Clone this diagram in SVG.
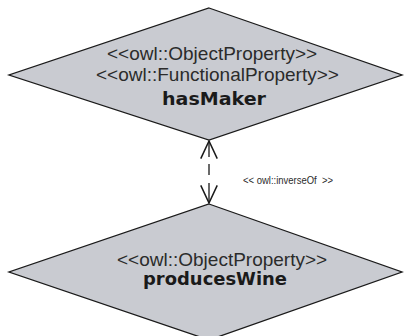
<svg xmlns="http://www.w3.org/2000/svg" width="405" height="336" viewBox="0 0 405 336">
  <style>
    .prop { fill: #c9cbd1; stroke: #1a1a1a; stroke-width: 1.3; stroke-linejoin: miter; }
    .stereo { font-family: "Liberation Sans", Arial, sans-serif; font-size: 19px; fill: #2b2b2b; }
    .name { font-family: "DejaVu Sans", Verdana, sans-serif; font-size: 18px; font-weight: bold; fill: #1a1a1a; }
    .edge { fill: none; stroke: #1a1a1a; stroke-width: 1.3; }
    .edge-label { font-family: "Liberation Sans", Arial, sans-serif; font-size: 11px; fill: #2b2b2b; white-space: pre; }
  </style>
  <defs>
    <marker id="openArrow" markerUnits="userSpaceOnUse" markerWidth="20" markerHeight="20"
            orient="auto-start-reverse" refX="0" refY="0" viewBox="-16 -8 17 16" overflow="visible">
      <path d="M-15,-7 L0,0 L-15,7" fill="none" stroke="#1a1a1a" stroke-width="1.3" stroke-dasharray="none"/>
    </marker>
  </defs>

  <g id="hasMaker">
    <polygon class="prop" points="209,8 402,75 209,140 9,75"/>
    <text class="stereo" x="107" y="60">&lt;&lt;owl::ObjectProperty&gt;&gt;</text>
    <text class="stereo" x="96" y="81">&lt;&lt;owl::FunctionalProperty&gt;&gt;</text>
    <text class="name" x="162" y="105" textLength="104" lengthAdjust="spacingAndGlyphs">hasMaker</text>
  </g>

  <g id="producesWine">
    <polygon class="prop" points="209,204 402,272 209,340 9,272"/>
    <text class="stereo" x="117" y="266">&lt;&lt;owl::ObjectProperty&gt;&gt;</text>
    <text class="name" x="143" y="285" textLength="144" lengthAdjust="spacingAndGlyphs">producesWine</text>
  </g>

  <g id="connectors">
    <line class="edge" x1="209" y1="141" x2="209" y2="203" stroke-dasharray="16 7 11 8 20"
          marker-start="url(#openArrow)" marker-end="url(#openArrow)"/>
    <text class="edge-label" x="243" y="184" xml:space="preserve" textLength="90" lengthAdjust="spacingAndGlyphs">&lt;&lt; owl::inverseOf  &gt;&gt;</text>
  </g>
</svg>
